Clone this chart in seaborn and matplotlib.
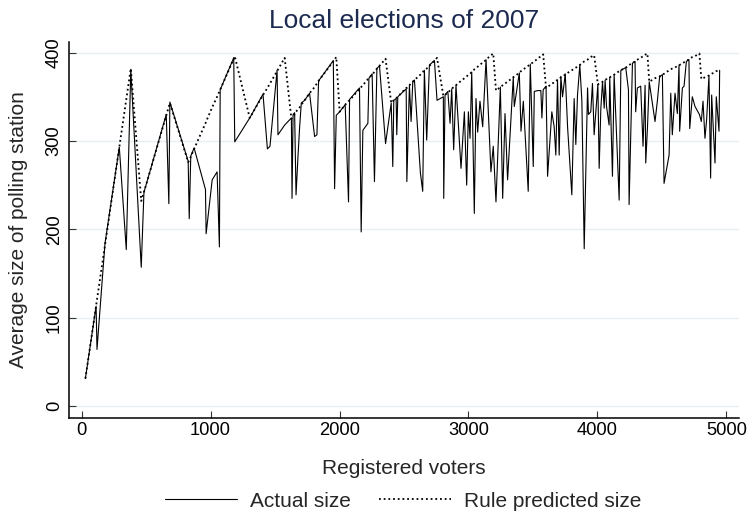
import numpy as np
import pandas as pd
import matplotlib
matplotlib.use("Agg")
import matplotlib.pyplot as plt
import seaborn as sns

# registered voters per municipality (sorted), actual and rule-predicted polling station size
voters = [30, 113, 120, 182, 293, 347, 382, 463, 484, 502, 657, 677, 685, 827, 835,
          847, 873, 961, 966, 1013, 1051, 1069, 1075, 1180, 1188, 1304, 1407, 1441,
          1461, 1516, 1523, 1575, 1627, 1632, 1640, 1652, 1663, 1678, 1691, 1704,
          1730, 1768, 1807, 1825, 1838, 1952, 1962, 1975, 2001, 2044, 2070, 2078,
          2155, 2168, 2181, 2220, 2228, 2253, 2271, 2290, 2310, 2357, 2401, 2413,
          2421, 2439, 2444, 2452, 2517, 2522, 2542, 2555, 2568, 2581, 2627, 2645,
          2658, 2676, 2697, 2736, 2756, 2805, 2808, 2818, 2840, 2857, 2870, 2885,
          2903, 2942, 2968, 2986, 2999, 3012, 3025, 3045, 3058, 3071, 3089, 3110,
          3123, 3136, 3174, 3192, 3213, 3247, 3265, 3283, 3303, 3347, 3355, 3394,
          3407, 3425, 3463, 3479, 3502, 3510, 3535, 3561, 3569, 3579, 3601, 3613,
          3646, 3664, 3677, 3690, 3703, 3716, 3729, 3750, 3768, 3801, 3819, 3832,
          3845, 3863, 3879, 3897, 3923, 3930, 3948, 3961, 3974, 4003, 4013, 4026,
          4039, 4052, 4059, 4070, 4090, 4095, 4116, 4129, 4168, 4181, 4219, 4240,
          4245, 4271, 4291, 4296, 4309, 4335, 4353, 4369, 4374, 4387, 4401, 4446,
          4464, 4482, 4503, 4516, 4555, 4568, 4580, 4601, 4619, 4632, 4637, 4658,
          4671, 4689, 4709, 4715, 4735, 4756, 4790, 4805, 4818, 4833, 4846, 4864,
          4877, 4885, 4911, 4921, 4942, 4947]

actual = [31, 113, 64, 184, 293, 177, 381, 157, 242, 251, 330, 229, 344, 277, 212,
          283, 292, 245, 195, 256, 265, 180, 358, 394, 299, 326, 353, 291,
          294, 380, 307, 318, 326, 235, 330, 332, 239, 282, 316, 343,
          346, 354, 305, 307, 368, 391, 246, 329, 333, 341, 231, 347,
          360, 197, 312, 320, 371, 376, 254, 382, 385, 297, 343, 271,
          346, 348, 307, 350, 359, 254, 363, 322, 367, 369, 264, 243,
          380, 301, 386, 391, 346, 350, 235, 352, 356, 320, 359, 290,
          363, 269, 333, 250, 333, 303, 378, 218, 348, 310, 345, 316,
          354, 392, 265, 294, 231, 361, 235, 331, 256, 372, 339, 377,
          311, 345, 243, 387, 271, 356, 357, 357, 326, 358, 362, 260,
          333, 316, 284, 369, 284, 373, 350, 376, 316, 239, 348, 296,
          352, 386, 345, 178, 360, 330, 333, 365, 307, 364, 269, 337,
          367, 337, 369, 339, 318, 372, 260, 375, 233, 380, 383, 358,
          228, 388, 390, 333, 360, 362, 294, 363, 275, 314, 367, 322,
          345, 373, 375, 252, 284, 354, 307, 354, 331, 386, 311, 360,
          362, 390, 392, 314, 350, 339, 330, 322, 345, 303, 324, 374,
          258, 352, 275, 350, 311, 380]

predicted = [31, 113, 120, 182, 293, 347, 382, 232, 242, 251, 329, 339, 343, 276, 278,
             282, 291, 320, 322, 338, 350, 356, 358, 393, 396, 326, 352, 360,
             365, 379, 381, 394, 325, 326, 328, 330, 333, 336, 338, 341,
             346, 354, 361, 365, 368, 390, 392, 395, 333, 341, 345, 346,
             359, 361, 363, 370, 371, 375, 378, 382, 385, 393, 343, 345,
             346, 348, 349, 350, 360, 360, 363, 365, 367, 369, 375, 378,
             380, 382, 385, 391, 394, 351, 351, 352, 355, 357, 359, 361,
             363, 368, 371, 373, 375, 376, 378, 381, 382, 384, 386, 389,
             390, 392, 397, 399, 357, 361, 363, 365, 367, 372, 373, 377,
             379, 381, 385, 387, 389, 390, 393, 396, 397, 398, 360, 361,
             365, 366, 368, 369, 370, 372, 373, 375, 377, 380, 382, 383,
             384, 386, 388, 390, 392, 393, 395, 396, 397, 364, 365, 366,
             367, 368, 369, 370, 372, 372, 374, 375, 379, 380, 383, 385,
             386, 388, 390, 391, 392, 394, 396, 397, 398, 399, 367, 371,
             372, 373, 375, 376, 380, 381, 382, 383, 385, 386, 386, 388,
             389, 391, 392, 393, 395, 396, 399, 370, 371, 372, 373, 374,
             375, 376, 378, 379, 380, 381]

df = pd.DataFrame({"voters": voters, "actual": actual, "predicted": predicted})

sns.set_style("white")
plt.rcParams['font.family'] = ['Liberation Sans', 'DejaVu Sans']

fig = plt.figure(figsize=(7.47, 5.16), dpi=100)
ax = fig.add_axes([69 / 747, 1 - 418 / 516, 670 / 747, 376 / 516])

sns.lineplot(data=df, x="voters", y="predicted", ax=ax, color="black",
             linestyle=(0, (1, 1.6)), linewidth=1.3, estimator=None,
             label="Rule predicted size")
sns.lineplot(data=df, x="voters", y="actual", ax=ax, color="black",
             linewidth=0.8, estimator=None, label="Actual size")

ax.set_xlim(-97, 5097)
ax.set_ylim(-13.6, 412)
ax.set_xticks([0, 1000, 2000, 3000, 4000, 5000])
ax.set_yticks([0, 100, 200, 300, 400])
ax.yaxis.grid(True, color="#e8eff2", linewidth=1.0)
ax.set_axisbelow(True)
for side in ["top", "right"]:
    ax.spines[side].set_visible(False)
for side in ["left", "bottom"]:
    ax.spines[side].set_color("black")
    ax.spines[side].set_linewidth(1.1)
# Stata-like ticks pointing into the plot region
ax.tick_params(axis="both", direction="in", length=5, width=0.8, color="#333333",
               labelsize=13.2, colors="black", bottom=True, left=True)
ax.tick_params(axis="x", pad=3)
ax.tick_params(axis="y", pad=4.5)
plt.setp(ax.get_yticklabels(), rotation=90, va="center")

ax.set_xlabel("Registered voters", fontsize=15, labelpad=14)
ax.set_ylabel("Average size of polling station", fontsize=15, labelpad=13)
ax.set_title("Local elections of 2007", fontsize=19, color="#1c2a50", pad=10)

handles, labels = ax.get_legend_handles_labels()
ax.legend(handles[::-1], labels[::-1], loc="center", bbox_to_anchor=(0.54, 0.029),
          bbox_transform=fig.transFigure, ncol=2, frameon=False, fontsize=15,
          handlelength=3.46, handletextpad=0.62, columnspacing=1.35)

fig.savefig("out.png", dpi=100)
